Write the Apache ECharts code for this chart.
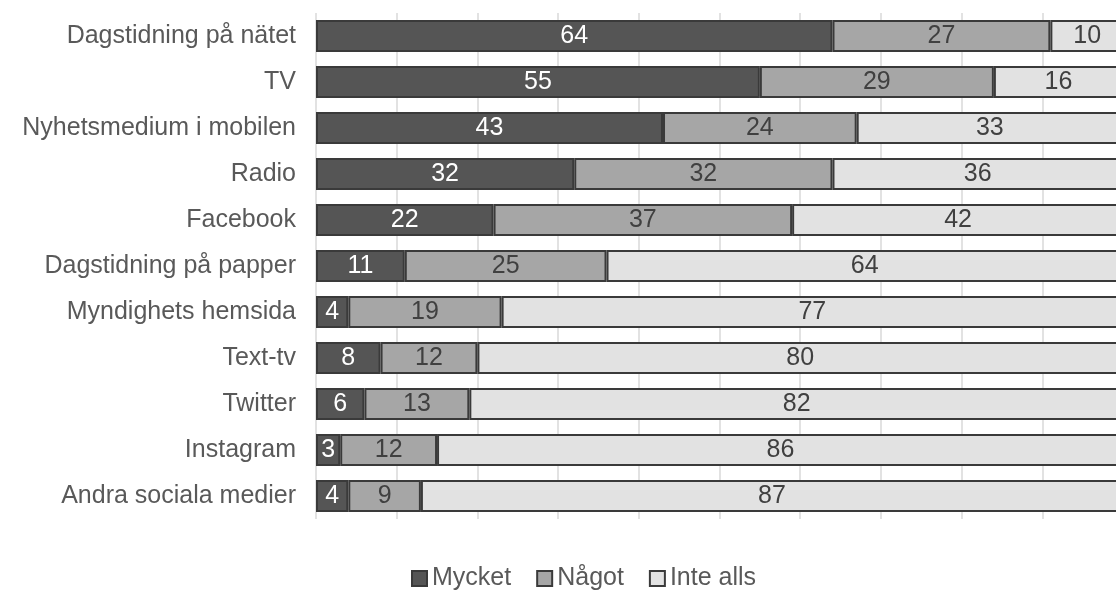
<!DOCTYPE html>
<html><head><meta charset="utf-8">
<script src="https://cdn.jsdelivr.net/npm/echarts@6/dist/echarts.min.js"></script>
<style>html,body{margin:0;padding:0;background:#fff}#c{width:1116px;height:590px}</style>
</head><body><div id="c"></div>
<script>
const categories = ["Dagstidning på nätet","TV","Nyhetsmedium i mobilen","Radio","Facebook","Dagstidning på papper","Myndighets hemsida","Text-tv","Twitter","Instagram","Andra sociala medier"];
const mycket = [64,55,43,32,22,11,4,8,6,3,4];
const nagot = [27,29,24,32,37,25,19,12,13,12,9];
const inteAlls = [10,16,33,36,42,64,77,80,82,86,87];
const seriesNames = ["Mycket","Något","Inte alls"];

const font = "Liberation Sans, Arial, sans-serif";
const colors = ["#555555","#a6a6a6","#e2e2e2"];
const labelColors = ["#ffffff","#404040","#404040"];
const datasets = [mycket, nagot, inteAlls];

const chart = echarts.init(document.getElementById('c'));
chart.setOption({
  animation:false,
  textStyle:{fontFamily:font},
  grid:{left:316, top:13, width:807, height:506, containLabel:false, outerBoundsMode:'none'},
  legend:{
    top:561, left:406, itemWidth:15, itemHeight:15, itemGap:25,
    icon:'rect',
    textStyle:{fontSize:25, color:'#595959', fontFamily:font},
    data:seriesNames
  },
  xAxis:{type:'value', min:0, max:100, interval:10,
    axisLabel:{show:false}, axisLine:{show:false}, axisTick:{show:false},
    splitLine:{lineStyle:{color:'#d9d9d9', width:1.5}}},
  yAxis:{type:'category', data:categories, inverse:true,
    axisLine:{show:false}, axisTick:{show:false},
    axisLabel:{fontSize:25, color:'#595959', margin:20, fontFamily:font}},
  series: datasets.map((d,i)=>({
    name:seriesNames[i], type:'bar', stack:'all', data:d, barWidth:32,
    itemStyle:{color:colors[i], borderColor:'#3a3a3a', borderWidth:2},
    label:{show:true, position:'inside', fontSize:25, color:labelColors[i], fontFamily:font}
  }))
});
</script></body></html>
